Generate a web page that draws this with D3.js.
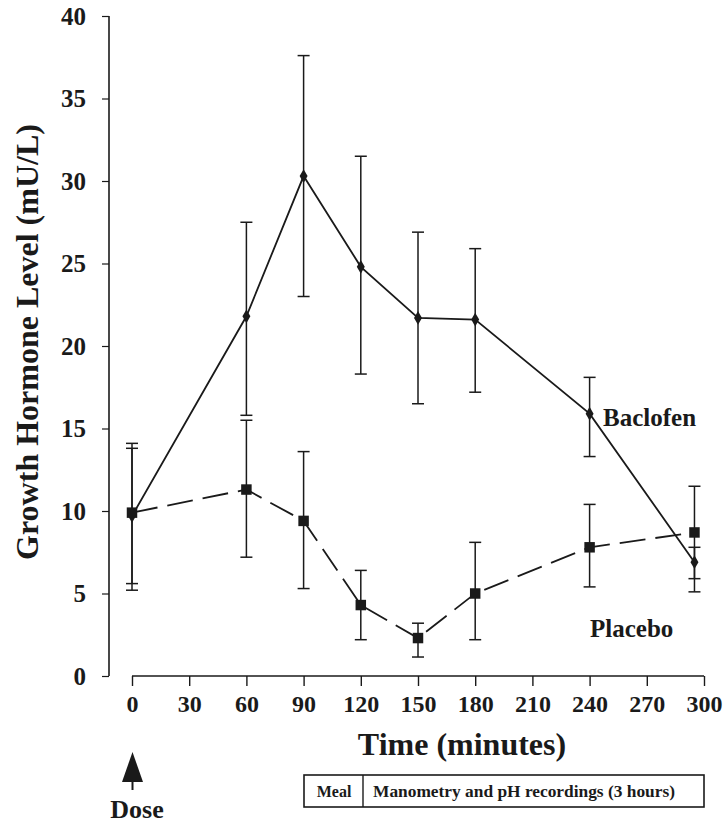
<!DOCTYPE html>
<html>
<head>
<meta charset="utf-8">
<script src="https://cdn.jsdelivr.net/npm/d3@7"></script>
<style>
  body { margin: 0; background: #fff; }
  text { font-family: "Liberation Serif", "Times New Roman", serif; font-weight: bold; fill: #1a1a1a; }
</style>
</head>
<body>
<script>
const width = 725;
const height = 824;

// data
const times = [0, 60, 90, 120, 150, 180, 240, 295];
const baclofen = [9.7, 21.8, 30.3, 24.8, 21.7, 21.6, 15.9, 6.9];
const baclofenLo = [5.2, 15.8, 23.0, 18.3, 16.5, 17.2, 13.3, 5.9];
const baclofenHi = [14.1, 27.5, 37.6, 31.5, 26.9, 25.9, 18.1, 7.8];
const placebo = [9.9, 11.3, 9.4, 4.3, 2.3, 5.0, 7.8, 8.7];
const placeboLo = [5.6, 7.2, 5.3, 2.2, 1.15, 2.2, 5.4, 5.1];
const placeboHi = [13.8, 15.5, 13.6, 6.4, 3.2, 8.1, 10.4, 11.5];
const xTicks = [0, 30, 60, 90, 120, 150, 180, 210, 240, 270, 300];
const yTicks = [0, 5, 10, 15, 20, 25, 30, 35, 40];

const ink = "#1a1a1a";

const svg = d3.select("body")
	.append("svg")
	.attr("width", width)
	.attr("height", height);

const x = d3.scaleLinear().domain([0, 300]).range([132, 704]);
const y = d3.scaleLinear().domain([0, 40]).range([676, 16]);

// y axis
const yAxis = svg.append("g")
	.attr("transform", "translate(109,0)")
	.call(d3.axisLeft(y).tickValues(yTicks).tickSize(7).tickPadding(16));
yAxis.select(".domain").attr("d", `M0,${y(40)}V${y(0)}`).attr("stroke", ink).attr("stroke-width", 1.6);
yAxis.selectAll(".tick line").attr("stroke", ink).attr("stroke-width", 1.2);
yAxis.selectAll(".tick text").style("font-size", "25px");

// x axis (starts at 0, detached from y axis, ticks point down)
const xAxis = svg.append("g")
	.attr("transform", "translate(0,676)")
	.call(d3.axisBottom(x).tickValues(xTicks).tickSize(10).tickPadding(9));
xAxis.select(".domain").attr("d", `M${x(0)},0H${x(300)}`).attr("stroke", ink).attr("stroke-width", 1.6);
xAxis.selectAll(".tick line").attr("stroke", ink).attr("stroke-width", 1.4);
xAxis.selectAll(".tick text").style("font-size", "24px");

// axis titles
svg.append("text")
	.attr("transform", `translate(38,342) rotate(-90)`)
	.attr("text-anchor", "middle")
	.style("font-size", "32px")
	.text("Growth Hormone Level (mU/L)");

svg.append("text")
	.attr("x", 462).attr("y", 755)
	.attr("text-anchor", "middle")
	.style("font-size", "32px")
	.text("Time (minutes)");

// series
const series = [
	{ name: "Baclofen", vals: baclofen, lo: baclofenLo, hi: baclofenHi, dash: null, marker: "diamond" },
	{ name: "Placebo", vals: placebo, lo: placeboLo, hi: placeboHi, dash: "26,10", marker: "square" }
];

const line = d3.line()
	.x(d => x(d.t))
	.y(d => y(d.v));

series.forEach(function(s) {
	const pts = times.map((t, i) => ({ t: t, v: s.vals[i], lo: s.lo[i], hi: s.hi[i] }));
	const g = svg.append("g");

	// error bars
	const eb = g.selectAll(".eb").data(pts).enter().append("g");
	eb.append("line")
		.attr("x1", d => x(d.t)).attr("x2", d => x(d.t))
		.attr("y1", d => y(d.lo)).attr("y2", d => y(d.hi))
		.attr("stroke", ink).attr("stroke-width", 1.5);
	[d => d.lo, d => d.hi].forEach(function(f) {
		eb.append("line")
			.attr("x1", d => x(d.t) - 6).attr("x2", d => x(d.t) + 6)
			.attr("y1", d => y(f(d))).attr("y2", d => y(f(d)))
			.attr("stroke", ink).attr("stroke-width", 1.5);
	});

	g.append("path")
		.datum(pts)
		.attr("d", line)
		.attr("fill", "none")
		.attr("stroke", ink)
		.attr("stroke-width", 1.8)
		.attr("stroke-dasharray", s.dash);

	const sym = s.marker === "square"
		? d3.symbol().type(d3.symbolSquare).size(110)
		: d3.symbol().type(d3.symbolDiamond).size(55);
	g.selectAll(".mk").data(pts).enter().append("path")
		.attr("transform", d => `translate(${x(d.t)},${y(d.v)})`)
		.attr("d", sym)
		.attr("fill", ink);
});

// series labels
svg.append("text")
	.attr("x", 603).attr("y", 426)
	.style("font-size", "25px")
	.text("Baclofen");
svg.append("text")
	.attr("x", 590).attr("y", 637)
	.style("font-size", "25px")
	.text("Placebo");

// dose arrow
const dx = x(0) + 0.5;
svg.append("line")
	.attr("x1", dx).attr("x2", dx)
	.attr("y1", 775).attr("y2", 790)
	.attr("stroke", ink).attr("stroke-width", 2);
svg.append("path")
	.attr("d", `M${dx},752L${dx + 10.5},782L${dx - 10.5},782Z`)
	.attr("fill", ink);
svg.append("text")
	.attr("x", 137).attr("y", 818)
	.attr("text-anchor", "middle")
	.style("font-size", "26px")
	.text("Dose");

// meal / recordings box
const box = svg.append("g");
box.append("rect")
	.attr("x", 304).attr("y", 775)
	.attr("width", 400).attr("height", 32)
	.attr("fill", "none")
	.attr("stroke", ink).attr("stroke-width", 1.6);
box.append("line")
	.attr("x1", 363).attr("x2", 363)
	.attr("y1", 775).attr("y2", 807)
	.attr("stroke", ink).attr("stroke-width", 1.4);
box.append("text")
	.attr("x", 334).attr("y", 797)
	.attr("text-anchor", "middle")
	.style("font-size", "16px")
	.text("Meal");
box.append("text")
	.attr("x", 373).attr("y", 797)
	.style("font-size", "16px")
	.attr("textLength", 302)
	.attr("lengthAdjust", "spacingAndGlyphs")
	.text("Manometry and pH recordings (3 hours)");
</script>
</body>
</html>
